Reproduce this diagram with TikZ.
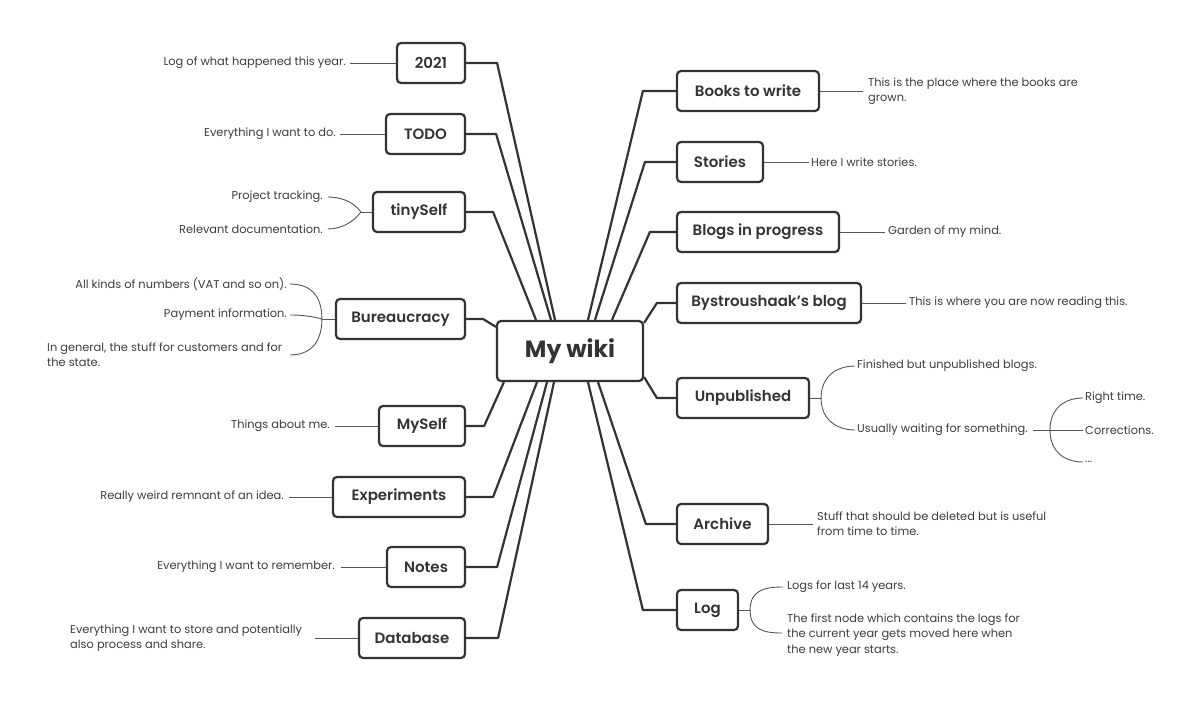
\documentclass[tikz,border=0pt]{standalone}
\usepackage{fontspec}
\setmainfont{Poppins}[BoldFont={Poppins SemiBold}]
\newfontfamily\heavy{Poppins Bold}
\definecolor{ink}{HTML}{333333}
\definecolor{txt}{HTML}{3C3C3C}
\definecolor{thin}{HTML}{555555}
\begin{document}
\begin{tikzpicture}[x=1pt,y=-1pt,
 box/.style={draw=ink, line width=2.2pt, rounded corners=4pt, minimum height=40pt, inner sep=0pt, font=\fontsize{15}{18}\selectfont\bfseries, text=ink},
 main/.style={draw=ink, line width=2.2pt, line join=round},
 leaf/.style={draw=thin, line width=0.9pt},
 lbl/.style={font=\fontsize{11.4}{15.2}\selectfont, text=txt, inner sep=0pt},
 lblw/.style={lbl, anchor=west, align=left},
 lble/.style={lbl, anchor=east, align=right},
]
\useasboundingbox (0,0) rectangle (1200,704);
% center
\node[box, minimum width=146pt, minimum height=60pt, font=\fontsize{23.5}{27}\selectfont\heavy] (c) at (570,351) {My wiki};
% left boxes
\node[box, minimum width=68pt]  (b2021) at (431,63)   {2021};
\node[box, minimum width=79pt]  (btodo) at (425.5,134) {TODO};
\node[box, minimum width=92pt]  (btiny) at (419,212)  {tinySelf};
\node[box, minimum width=129pt] (bbur)  at (400.5,319) {Bureaucracy};
\node[box, minimum width=86pt]  (bmy)   at (422,426)  {MySelf};
\node[box, minimum width=132pt] (bexp)  at (399,497)  {Experiments};
\node[box, minimum width=78pt]  (bnot)  at (426,567)  {Notes};
\node[box, minimum width=106pt] (bdb)   at (412,638)  {Database};
% right boxes
\node[box, minimum width=142pt] (bbook) at (748,91)   {Books to write};
\node[box, minimum width=86pt]  (bsto)  at (720,162)  {Stories};
\node[box, minimum width=162pt] (bblog) at (758,232)  {Blogs in progress};
\node[box, minimum width=184pt] (bbys)  at (769,303)  {Bystroushaak{\char"27}s blog};
\node[box, minimum width=132pt] (bunp)  at (743,398)  {Unpublished};
\node[box, minimum width=91pt]  (barc)  at (722.5,524) {Archive};
\node[box, minimum width=61pt]  (blog)  at (707.5,610) {Log};
% main connectors left
\draw[main] (b2021.east) -- ([xshift=31pt]b2021.east) -- ([xshift=-15pt]c.north);
\draw[main] (btodo.east) -- ([xshift=30pt]btodo.east) -- ([xshift=-19pt]c.north);
\draw[main] (btiny.east) -- ([xshift=27pt]btiny.east) -- ([xshift=-34pt]c.north);
\draw[main] (bbur.east) -- ([xshift=17pt]bbur.east) -- ([yshift=-7pt]c.north west);
\draw[main] (bmy.east) -- ([xshift=18pt]bmy.east) -- ([xshift=8pt]c.south west);
\draw[main] (bexp.east) -- ([xshift=27pt]bexp.east) -- ([xshift=-33pt]c.south);
\draw[main] (bnot.east) -- ([xshift=31pt]bnot.east) -- ([xshift=-23pt]c.south);
\draw[main] (bdb.east) -- ([xshift=32pt]bdb.east) -- ([xshift=-16pt]c.south);
% main connectors right
\draw[main] (bbook.west) -- ([xshift=-33pt]bbook.west) -- ([xshift=18pt]c.north);
\draw[main] (bsto.west) -- ([xshift=-31pt]bsto.west) -- ([xshift=25pt]c.north);
\draw[main] (bblog.west) -- ([xshift=-26pt]bblog.west) -- ([xshift=42pt]c.north);
\draw[main] (bbys.west) -- ([xshift=-19pt]bbys.west) -- ([yshift=-3pt]c.north east);
\draw[main] (bunp.west) -- ([xshift=-19pt]bunp.west) -- ([yshift=5pt]c.south east);
\draw[main] (barc.west) -- ([xshift=-30pt]barc.west) -- ([xshift=28pt]c.south);
\draw[main] (blog.west) -- ([xshift=-33pt]blog.west) -- ([xshift=18pt]c.south);
% left leaves
\node[lble] (t2021) at (346,63) {Log of what happened this year.};
\draw[leaf] ([xshift=4pt]t2021.east) -- (b2021.west);
\node[lble] (ttodo) at (336,134) {Everything I want to do.};
\draw[leaf] ([xshift=4pt]ttodo.east) -- (btodo.west);
\node[lble] (tiny1) at (323,197) {Project tracking.};
\node[lble] (tiny2) at (323,229) {Relevant documentation.};
\draw[leaf] (btiny.west) -- ++(-11,0) coordinate (vt);
\draw[leaf] (vt) .. controls +(-8,-11) and +(12,0) .. ([xshift=5pt]tiny1.east);
\draw[leaf] (vt) .. controls +(-8,11) and +(12,0) .. ([xshift=5pt]tiny2.east);
\node[lble] (bur1) at (287,284) {All kinds of numbers (VAT and so on).};
\node[lble] (bur2) at (287,315) {Payment information.};
\node[lblw] (bur3) at (47,355) {In general, the stuff for customers and for\\the state.};
\draw[leaf] (bbur.west) -- ++(-13,0) coordinate (vb);
\draw[leaf] (vb) .. controls +(0,-26) and +(18,0) .. ([xshift=3pt]bur1.east);
\draw[leaf] (vb) .. controls +(-10,-3) and +(10,0) .. ([xshift=3pt]bur2.east);
\draw[leaf] (vb) .. controls +(0,26) and +(18,0) .. (290,355);
\node[lble] (tmy) at (330,426) {Things about me.};
\draw[leaf] ([xshift=5pt]tmy.east) -- (bmy.west);
\node[lble] (texp) at (284,497) {Really weird remnant of an idea.};
\draw[leaf] ([xshift=5pt]texp.east) -- (bexp.west);
\node[lble] (tnot) at (335,567) {Everything I want to remember.};
\draw[leaf] ([xshift=6pt]tnot.east) -- (bnot.west);
\node[lblw] (tdb) at (70,638) {Everything I want to store and potentially\\also process and share.};
\draw[leaf] (315,638) -- (bdb.west);
% right leaves
\node[lblw] (tbook) at (868,91) {This is the place where the books are\\grown.};
\draw[leaf] (bbook.east) -- (863,91);
\node[lblw] (tsto) at (811,162) {Here I write stories.};
\draw[leaf] (bsto.east) -- ([xshift=-2pt]tsto.west);
\node[lblw] (tblog) at (888,232) {Garden of my mind.};
\draw[leaf] (bblog.east) -- ([xshift=-3pt]tblog.west);
\node[lblw] (tbys) at (909,303) {This is where you are now reading this.};
\draw[leaf] (bbys.east) -- ([xshift=-3pt]tbys.west);
\node[lblw] (unp1) at (857,366) {Finished but unpublished blogs.};
\node[lblw] (unp2) at (857,430) {Usually waiting for something.};
\draw[leaf] (bunp.east) -- ++(11,0) coordinate (vu);
\draw[leaf] (vu) .. controls +(0,-22) and +(-18,0) .. ([xshift=-2pt]unp1.west);
\draw[leaf] (vu) .. controls +(0,22) and +(-18,0) .. ([xshift=-2pt]unp2.west);
\node[lblw] (r1) at (1085,398) {Right time.};
\node[lblw] (r2) at (1085,430) {Corrections.};
\node[lblw] (r3) at (1085,462) {...};
\draw[leaf] ([xshift=5pt]unp2.east) -- ([xshift=-2pt]r2.west);
\coordinate (vw) at (1050,430);
\draw[leaf] (vw) .. controls +(0,-22) and +(-18,0) .. ([xshift=-2pt]r1.west);
\draw[leaf] (vw) .. controls +(0,22) and +(-18,0) .. ([xshift=-2pt]r3.west);
\node[lblw] (tarc) at (817,524) {Stuff that should be deleted but is useful\\from time to time.};
\draw[leaf] (barc.east) -- (813,524);
\node[lblw] (log1) at (787,587) {Logs for last 14 years.};
\node[lblw] (log2) at (787,635) {The first node which contains the logs for\\the current year gets moved here when\\the new year starts.};
\draw[leaf] (blog.east) -- ++(11,0) coordinate (vl);
\draw[leaf] (vl) .. controls +(0,-20) and +(-18,0) .. ([xshift=-4pt]log1.west);
\draw[leaf] (vl) .. controls +(0,20) and +(-18,0) .. (782,633);
\end{tikzpicture}
\end{document}
